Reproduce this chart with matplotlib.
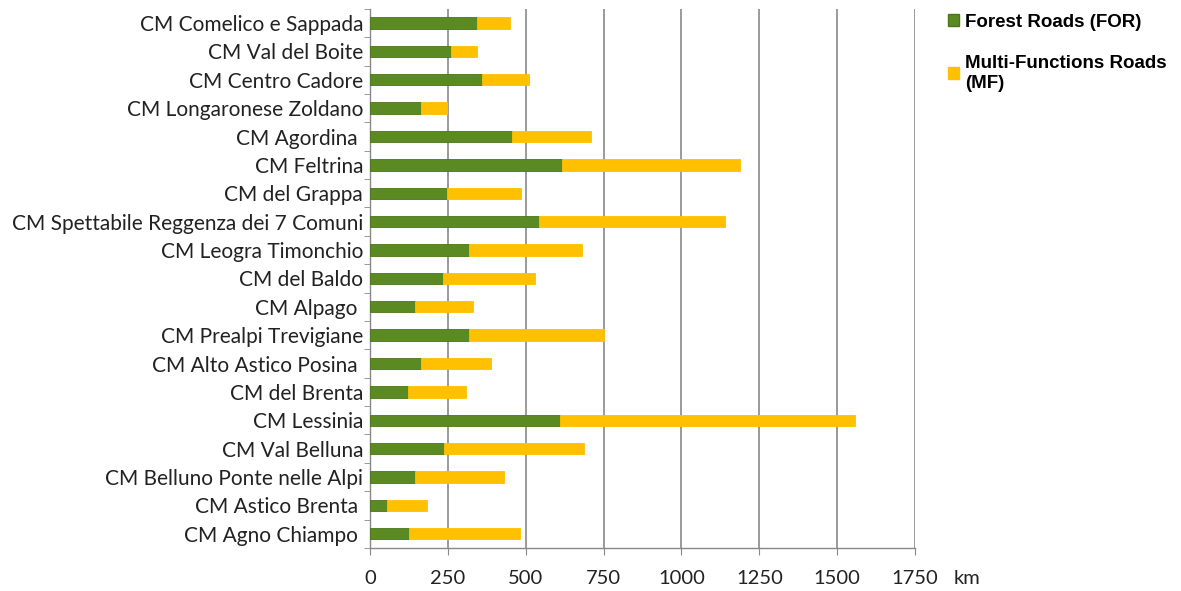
import numpy as np
import matplotlib
matplotlib.use("Agg")
import matplotlib.pyplot as plt
from matplotlib.patches import Patch

# road lengths (km) per mountain community, listed top to bottom
communities = [
    "CM Comelico e Sappada",
    "CM Val del Boite",
    "CM Centro Cadore",
    "CM Longaronese Zoldano",
    "CM Agordina ",
    "CM Feltrina",
    "CM del Grappa",
    "CM Spettabile Reggenza dei 7 Comuni",
    "CM Leogra Timonchio",
    "CM del Baldo",
    "CM Alpago ",
    "CM Prealpi Trevigiane",
    "CM Alto Astico Posina ",
    "CM del Brenta",
    "CM Lessinia",
    "CM Val Belluna",
    "CM Belluno Ponte nelle Alpi",
    "CM Astico Brenta ",
    "CM Agno Chiampo ",
]
forest_roads = [342, 261, 359, 165, 457, 615, 246, 544, 319, 235, 146, 317, 165, 121, 611, 238, 146, 55, 125]
multi_func = [108, 82, 151, 82, 253, 573, 238, 595, 362, 294, 186, 434, 225, 187, 946, 449, 283, 128, 355]

x_ticks = [0, 250, 500, 750, 1000, 1250, 1500, 1750]

green = "#5b8a22"
yellow = "#ffc000"

plt.rcParams["font.family"] = ["Lato", "DejaVu Sans"]

fig = plt.figure(figsize=(11.81, 5.91), dpi=100)
ax = fig.add_axes([0.3133, 0.0728, 0.4615, 0.9122])

y = np.arange(len(communities))
ax.barh(y, forest_roads, height=0.4, color=green, edgecolor="#4a7519", linewidth=0.6, zorder=3)
ax.barh(y, multi_func, left=forest_roads, height=0.4, color=yellow, edgecolor=yellow,
        linewidth=0.6, zorder=3)

ax.set_ylim(len(communities) - 0.5, -0.5)
ax.set_xlim(0, 1750)
ax.set_xticks(x_ticks)
ax.set_xticklabels([str(v) for v in x_ticks], fontsize=14.5, color="#222222")
ax.set_yticks(y)
ax.set_yticklabels(communities, fontsize=15, color="#222222")
ax.set_yticks(np.arange(-0.5, len(communities) + 0.5, 1), minor=True)

ax.tick_params(axis="y", which="major", length=0, pad=5)
ax.tick_params(axis="y", which="minor", length=4, color="#888888")
ax.tick_params(axis="x", length=5, color="#888888", pad=11)

ax.grid(axis="x", color="#9a9a9a", linewidth=1.4, zorder=0)
for side in ["top", "right"]:
    ax.spines[side].set_visible(False)
for side in ["left", "bottom"]:
    ax.spines[side].set_color("#888888")
    ax.spines[side].set_linewidth(1.0)

fig.text(0.8187, 0.0215, "km", fontsize=14.5, color="#222222", ha="center", va="center")

handles = [Patch(facecolor=green, edgecolor="#4a7519"), Patch(facecolor=yellow, edgecolor=yellow)]
fig.legend(handles, ["Forest Roads (FOR)", "Multi-Functions Roads\n(MF)"],
           loc="upper left", bbox_to_anchor=(0.793, 0.996), frameon=False, borderaxespad=0.2,
           prop={"family": "Liberation Sans", "weight": "bold", "size": 13.5},
           handlelength=0.6, handleheight=0.6, handletextpad=0.3, labelspacing=1.3)

fig.savefig("out.png", dpi=100)
